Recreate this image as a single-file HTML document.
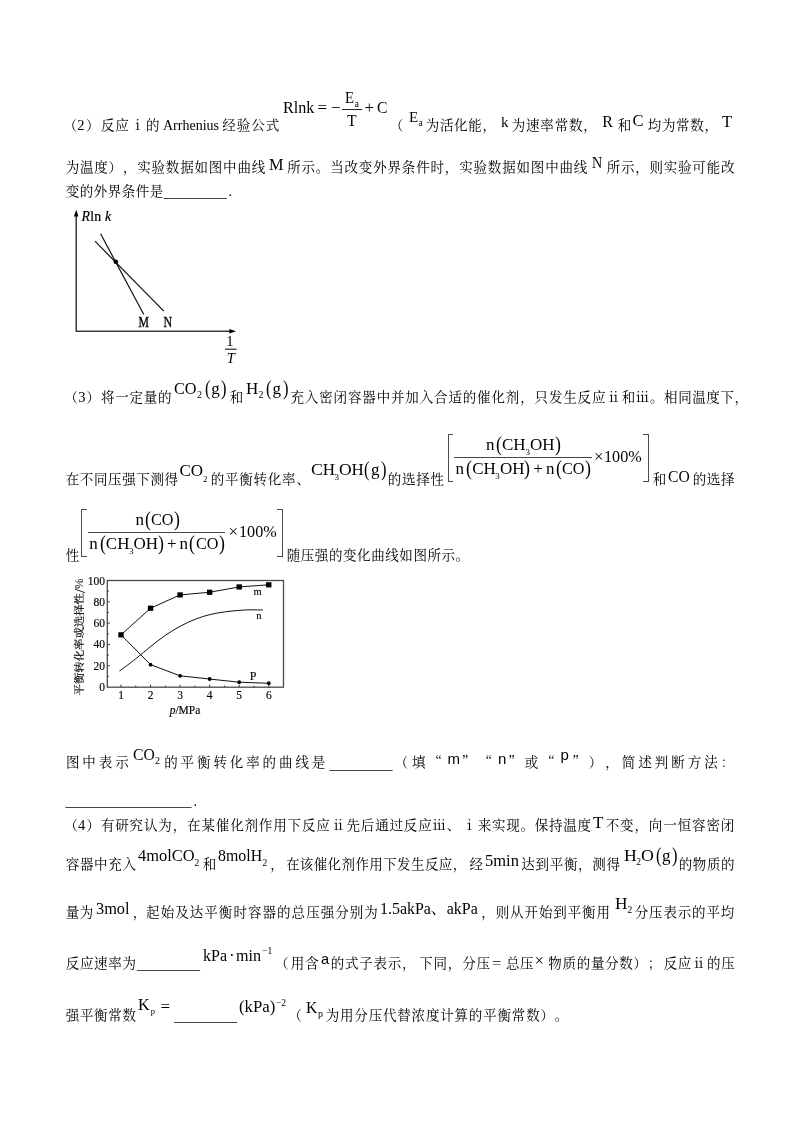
<!DOCTYPE html>
<html lang="zh-CN">
<head>
<meta charset="utf-8">
<title>化学试题</title>
<style>
html,body{margin:0;padding:0;background:#fff;}
body{width:800px;height:1132px;position:relative;overflow:hidden;color:#000;
 font-family:"Liberation Serif","Noto Serif CJK SC",serif;font-size:14px;}
.page{position:absolute;left:0;top:0;width:800px;height:1132px;}
.page span{position:absolute;white-space:nowrap;text-spacing-trim:space-all;font-kerning:none;font-variant-ligatures:none;font-size:13.5px;line-height:24px;transform-origin:0 50%;}
.page span span{position:static;font-size:inherit;line-height:inherit;}
.c{font-family:"Noto Serif CJK SC","Liberation Serif",serif;}
.s{font-family:"Liberation Serif","Noto Serif CJK SC",serif;}
.a{font-family:"Liberation Sans","Noto Sans CJK SC",sans-serif;}
section,p,figure{margin:0;padding:0;display:block;}
.hl{position:absolute;display:block;}
.it{font-style:italic;}
svg{position:absolute;left:0;top:0;overflow:visible;}
svg text{font-family:"Liberation Serif","Noto Serif CJK SC",serif;}
</style>
</head>
<body>
<div class="page">
<section class="q">
<p class="ln">
<span class="c" style="left:63.50px;top:112px;letter-spacing:0.500px;">（</span>
<span class="s" style="left:77.20px;top:115px;font-size:14.5px;line-height:20px;">2</span>
<span class="c" style="left:85.90px;top:112px;letter-spacing:0.500px;">）</span>
<span class="c" style="left:100.90px;top:112px;letter-spacing:0.800px;">反应</span>
<span class="c" style="left:130.90px;top:112px;letter-spacing:0.500px;">ⅰ</span>
<span class="c" style="left:145.90px;top:112px;letter-spacing:0.500px;">的</span>
<span class="s" style="left:163.00px;top:116px;font-size:14px;line-height:19px;">Arrhenius</span>
<span class="c" style="left:222.30px;top:112px;letter-spacing:1.000px;">经验公式</span>
<span class="s" style="left:282.70px;top:96px;font-size:17px;line-height:23px;transform:scaleX(0.95);">Rlnk</span>
<span class="s" style="left:317.50px;top:96px;font-size:17px;line-height:23px;">=</span>
<span class="s" style="left:331.00px;top:96px;font-size:17px;line-height:23px;">−</span>
<span class="s" style="left:345.20px;top:87px;font-size:16px;line-height:21px;transform:scaleX(0.92);">E</span>
<span class="s" style="left:354.40px;top:96px;font-size:10px;line-height:15px;">a</span>
<i class="hl" style="left:342.40px;top:109.00px;width:19.20px;height:1px;background:#222"></i>
<span class="s" style="left:346.80px;top:109px;font-size:17px;line-height:23px;transform:scaleX(0.92);">T</span>
<span class="s" style="left:364.50px;top:96px;font-size:17px;line-height:23px;">+</span>
<span class="s" style="left:377.00px;top:96px;font-size:17px;line-height:23px;transform:scaleX(0.92);">C</span>
<span class="c" style="left:389.70px;top:112px;letter-spacing:0.500px;">（</span>
<span class="s" style="left:409.00px;top:107px;font-size:15px;line-height:20px;">E</span>
<span class="s" style="left:418.60px;top:116px;font-size:9.5px;line-height:14px;">a</span>
<span class="c" style="left:425.70px;top:112px;letter-spacing:0.700px;">为活化能，</span>
<span class="s" style="left:501.00px;top:112px;font-size:15px;line-height:20px;">k</span>
<span class="c" style="left:511.70px;top:112px;letter-spacing:0.833px;">为速率常数，</span>
<span class="s" style="left:602.20px;top:111px;font-size:16px;line-height:21px;">R</span>
<span class="c" style="left:617.70px;top:112px;letter-spacing:0.500px;">和</span>
<span class="s" style="left:632.60px;top:109px;font-size:16.5px;line-height:23px;">C</span>
<span class="c" style="left:647.70px;top:112px;letter-spacing:0.700px;">均为常数，</span>
<span class="s" style="left:722.00px;top:110px;font-size:16.5px;line-height:23px;">T</span>
</p>
<p class="ln">
<span class="c" style="left:65.70px;top:154px;letter-spacing:0.807px;">为温度）</span>
<span class="c" style="left:122.93px;top:154px;letter-spacing:0.807px;">，实验数据如图中曲线</span>
<span class="s" style="left:269.00px;top:153px;font-size:17px;line-height:23px;transform:scaleX(0.96);">M</span>
<span class="c" style="left:287.20px;top:154px;letter-spacing:0.833px;">所示。当改变外界条件时，实验数据如图中曲线</span>
<span class="s" style="left:592.30px;top:151px;font-size:17px;line-height:23px;transform:scaleX(0.83);">N</span>
<span class="c" style="left:606.70px;top:154px;letter-spacing:0.778px;">所示，则实验可能改</span>
</p>
<p class="ln">
<span class="c" style="left:65.70px;top:178px;letter-spacing:0.500px;">变的外界条件是</span>
<span class="s" style="left:163.80px;top:183px;font-size:14px;line-height:19px;">_________</span>
<span class="s" style="left:228.50px;top:182px;font-size:14px;line-height:19px;">.</span>
</p>
<figure class="fig" aria-label="Rln k - 1/T">
<svg width="800" height="1132" viewBox="0 0 800 1132">
<g fill="none" stroke="#3a3a3a" stroke-width="1.5">
<path d="M76.2 215 V331.2 H231"/>
</g>
<path d="M76.2 209.8 L78.5 216.4 L73.9 216.4 Z" fill="#000"/>
<path d="M236 331.2 L229.4 333.5 L229.4 328.9 Z" fill="#000"/>
<g stroke="#111" stroke-width="1.2" fill="none">
<path d="M100.6 233.8 L143.8 314.5"/>
<path d="M95 241.2 L163.8 311.2"/>
</g>
<circle cx="115.8" cy="261.8" r="2.3" fill="#000"/>
<g font-size="13" fill="#000">
<text x="81.6" y="220.6" font-size="13.8" letter-spacing="0.2" stroke="#000" stroke-width="0.2"><tspan font-style="italic">R</tspan>ln <tspan font-style="italic">k</tspan></text>
<text transform="translate(138.4,327.4) scale(0.84,1)" font-size="14" stroke="#000" stroke-width="0.3">M</text>
<text transform="translate(163.5,327.4) scale(0.86,1)" font-size="14" stroke="#000" stroke-width="0.3">N</text>
<text x="229.9" y="346.3" text-anchor="middle" font-size="14.5">1</text>
<text x="230.7" y="362.6" text-anchor="middle" font-size="14.5" font-style="italic">T</text>
</g>
<path d="M225 349.2 H236.6" stroke="#000" stroke-width="1"/>
</svg>
</figure>
</section>
<section class="q">
<p class="ln">
<span class="c" style="left:64.20px;top:384px;letter-spacing:0.500px;">（</span>
<span class="s" style="left:78.30px;top:387px;font-size:14.5px;line-height:20px;">3</span>
<span class="c" style="left:86.50px;top:384px;letter-spacing:0.500px;">）</span>
<span class="c" style="left:100.90px;top:384px;letter-spacing:0.780px;">将一定量的</span>
<span class="s" style="left:174.00px;top:377px;font-size:17px;line-height:23px;transform:scaleX(0.957);">CO</span>
<span class="s" style="left:197.00px;top:387px;font-size:10px;line-height:15px;">2</span>
<span class="s" style="left:204.81px;top:373px;font-size:22px;line-height:29px;transform:scaleX(0.75);">(</span>
<span class="s" style="left:211.20px;top:377px;font-size:17px;line-height:23px;">g</span>
<span class="s" style="left:221.12px;top:373px;font-size:22px;line-height:29px;transform:scaleX(0.75);">)</span>
<span class="c" style="left:229.70px;top:384px;letter-spacing:0.500px;">和</span>
<span class="s" style="left:246.10px;top:377px;font-size:17px;line-height:23px;">H</span>
<span class="s" style="left:258.40px;top:387px;font-size:10px;line-height:15px;">2</span>
<span class="s" style="left:266.21px;top:373px;font-size:22px;line-height:29px;transform:scaleX(0.75);">(</span>
<span class="s" style="left:272.60px;top:377px;font-size:17px;line-height:23px;">g</span>
<span class="s" style="left:282.52px;top:373px;font-size:22px;line-height:29px;transform:scaleX(0.75);">)</span>
<span class="c" style="left:290.50px;top:384px;letter-spacing:0.855px;">充入密闭容器中并加入合适的催化剂，只发生反应</span>
<span class="c" style="left:606.70px;top:384px;letter-spacing:0.500px;">ⅱ</span>
<span class="c" style="left:621.70px;top:384px;letter-spacing:0.611px;">和ⅲ。相同温度下，</span>
</p>
<p class="ln">
<span class="c" style="left:65.70px;top:466px;letter-spacing:0.625px;">在不同压强下测得</span>
<span class="s" style="left:179.40px;top:459px;font-size:17px;line-height:23px;">CO</span>
<span class="s" style="left:203.00px;top:472px;font-size:9px;line-height:14px;">2</span>
<span class="c" style="left:210.70px;top:466px;letter-spacing:0.786px;">的平衡转化率、</span>
<span class="s" style="left:310.90px;top:458px;font-size:17px;line-height:23px;transform:scaleX(1.05);">C</span>
<span class="s" style="left:322.70px;top:458px;font-size:17px;line-height:23px;">H</span>
<span class="s" style="left:334.40px;top:470px;font-size:9px;line-height:14px;">3</span>
<span class="s" style="left:338.90px;top:458px;font-size:17px;line-height:23px;transform:scaleX(1.03);">O</span>
<span class="s" style="left:351.40px;top:458px;font-size:17px;line-height:23px;">H</span>
<span class="s" style="left:364.41px;top:454px;font-size:22px;line-height:29px;transform:scaleX(0.75);">(</span>
<span class="s" style="left:371.00px;top:458px;font-size:17px;line-height:23px;">g</span>
<span class="s" style="left:381.02px;top:454px;font-size:22px;line-height:29px;transform:scaleX(0.75);">)</span>
<span class="c" style="left:387.70px;top:466px;letter-spacing:0.750px;">的选择性</span>
<span class="c" style="left:652.70px;top:466px;letter-spacing:0.500px;">和</span>
<span class="s" style="left:668.00px;top:465px;font-size:17px;line-height:23px;transform:scaleX(0.92);">CO</span>
<span class="c" style="left:692.70px;top:466px;letter-spacing:0.667px;">的选择</span>
<i class="hl" style="left:447.50px;top:433.50px;width:1px;height:48.00px;background:#4a4a4a"></i>
<i class="hl" style="left:447.50px;top:433.50px;width:5.50px;height:1px;background:#4a4a4a"></i>
<i class="hl" style="left:447.50px;top:480.50px;width:5.50px;height:1px;background:#4a4a4a"></i>
<i class="hl" style="left:647.90px;top:433.50px;width:1px;height:48.00px;background:#4a4a4a"></i>
<i class="hl" style="left:643.40px;top:433.50px;width:5.50px;height:1px;background:#4a4a4a"></i>
<i class="hl" style="left:643.40px;top:480.50px;width:5.50px;height:1px;background:#4a4a4a"></i>
<i class="hl" style="left:454.00px;top:456.50px;width:137.50px;height:1px;background:#444"></i>
<span class="s" style="left:455.60px;top:457px;font-size:17px;line-height:23px;">n</span>
<span class="s" style="left:466.00px;top:454px;font-size:21px;line-height:28px;transform:scaleX(0.85);">(</span>
<span class="s" style="left:472.20px;top:457px;font-size:17px;line-height:23px;">CH</span>
<span class="s" style="left:495.30px;top:469px;font-size:9px;line-height:14px;">3</span>
<span class="s" style="left:500.00px;top:457px;font-size:17px;line-height:23px;">OH</span>
<span class="s" style="left:524.20px;top:454px;font-size:21px;line-height:28px;transform:scaleX(0.85);">)</span>
<span class="s" style="left:533.30px;top:457px;font-size:17px;line-height:23px;">+</span>
<span class="s" style="left:546.00px;top:457px;font-size:17px;line-height:23px;">n</span>
<span class="s" style="left:555.60px;top:454px;font-size:21px;line-height:28px;transform:scaleX(0.85);">(</span>
<span class="s" style="left:562.40px;top:457px;font-size:17px;line-height:23px;transform:scaleX(0.95);">CO</span>
<span class="s" style="left:585.20px;top:454px;font-size:21px;line-height:28px;transform:scaleX(0.85);">)</span>
<span class="s" style="left:486.00px;top:433px;font-size:17px;line-height:23px;">n</span>
<span class="s" style="left:495.50px;top:430px;font-size:21px;line-height:28px;transform:scaleX(0.85);">(</span>
<span class="s" style="left:502.00px;top:433px;font-size:17px;line-height:23px;">CH</span>
<span class="s" style="left:525.40px;top:445px;font-size:9px;line-height:14px;">3</span>
<span class="s" style="left:530.00px;top:433px;font-size:17px;line-height:23px;">OH</span>
<span class="s" style="left:555.20px;top:430px;font-size:21px;line-height:28px;transform:scaleX(0.85);">)</span>
<span class="s" style="left:594.00px;top:445px;font-size:17px;line-height:23px;">×</span>
<span class="s" style="left:604.40px;top:445px;font-size:17px;line-height:23px;transform:scaleX(0.95);">100%</span>
</p>
<p class="ln">
<span class="c" style="left:65.70px;top:542px;letter-spacing:0.500px;">性</span>
<span class="c" style="left:286.70px;top:542px;letter-spacing:0.577px;">随压强的变化曲线如图所示。</span>
<i class="hl" style="left:81.10px;top:508.50px;width:1px;height:48.00px;background:#4a4a4a"></i>
<i class="hl" style="left:81.10px;top:508.50px;width:5.50px;height:1px;background:#4a4a4a"></i>
<i class="hl" style="left:81.10px;top:555.50px;width:5.50px;height:1px;background:#4a4a4a"></i>
<i class="hl" style="left:281.50px;top:508.50px;width:1px;height:48.00px;background:#4a4a4a"></i>
<i class="hl" style="left:277.00px;top:508.50px;width:5.50px;height:1px;background:#4a4a4a"></i>
<i class="hl" style="left:277.00px;top:555.50px;width:5.50px;height:1px;background:#4a4a4a"></i>
<i class="hl" style="left:87.60px;top:531.50px;width:137.50px;height:1px;background:#444"></i>
<span class="s" style="left:89.20px;top:532px;font-size:17px;line-height:23px;">n</span>
<span class="s" style="left:99.60px;top:529px;font-size:21px;line-height:28px;transform:scaleX(0.85);">(</span>
<span class="s" style="left:105.80px;top:532px;font-size:17px;line-height:23px;">CH</span>
<span class="s" style="left:128.90px;top:544px;font-size:9px;line-height:14px;">3</span>
<span class="s" style="left:133.60px;top:532px;font-size:17px;line-height:23px;">OH</span>
<span class="s" style="left:157.80px;top:529px;font-size:21px;line-height:28px;transform:scaleX(0.85);">)</span>
<span class="s" style="left:166.90px;top:532px;font-size:17px;line-height:23px;">+</span>
<span class="s" style="left:179.60px;top:532px;font-size:17px;line-height:23px;">n</span>
<span class="s" style="left:189.20px;top:529px;font-size:21px;line-height:28px;transform:scaleX(0.85);">(</span>
<span class="s" style="left:196.00px;top:532px;font-size:17px;line-height:23px;transform:scaleX(0.95);">CO</span>
<span class="s" style="left:218.80px;top:529px;font-size:21px;line-height:28px;transform:scaleX(0.85);">)</span>
<span class="s" style="left:135.60px;top:508px;font-size:17px;line-height:23px;">n</span>
<span class="s" style="left:144.60px;top:505px;font-size:21px;line-height:28px;transform:scaleX(0.85);">(</span>
<span class="s" style="left:150.80px;top:508px;font-size:17px;line-height:23px;transform:scaleX(0.95);">CO</span>
<span class="s" style="left:173.60px;top:505px;font-size:21px;line-height:28px;transform:scaleX(0.85);">)</span>
<span class="s" style="left:228.60px;top:520px;font-size:17px;line-height:23px;">×</span>
<span class="s" style="left:239.00px;top:520px;font-size:17px;line-height:23px;transform:scaleX(0.95);">100%</span>
</p>
<figure class="fig" aria-label="p/MPa">
<svg width="800" height="1132" viewBox="0 0 800 1132"><rect x="107.3" y="580.5" width="176.20" height="106.70" fill="none" stroke="#4a4a4a" stroke-width="1.3"/>
<path d="M107.3 676.36 h1.6 M107.3 665.71 h2.6 M107.3 655.07 h1.6 M107.3 644.42 h2.6 M107.3 633.77 h1.6 M107.3 623.13 h2.6 M107.3 612.49 h1.6 M107.3 601.84 h2.6 M107.3 591.19 h1.6 M121.00 687.2 v-2.6 M135.78 687.2 v-1.6 M150.55 687.2 v-2.6 M165.32 687.2 v-1.6 M180.10 687.2 v-2.6 M194.88 687.2 v-1.6 M209.65 687.2 v-2.6 M224.43 687.2 v-1.6 M239.20 687.2 v-2.6 M253.97 687.2 v-1.6 M268.75 687.2 v-2.6" stroke="#2a2a2a" stroke-width="0.9" fill="none"/>
<path d="M121.00 634.84 L150.55 608.23 L180.10 594.92 L209.65 592.26 L239.20 586.94 L268.75 584.81" stroke="#111" stroke-width="1" fill="none"/>
<path d="M121.00 634.84 L150.55 664.65 L180.10 675.82 L209.65 679.02 L239.20 682.21 L268.75 683.27" stroke="#111" stroke-width="1" fill="none"/>
<rect x="118.30" y="632.24" width="5.4" height="5.2" fill="#000"/>
<rect x="147.85" y="605.63" width="5.4" height="5.2" fill="#000"/>
<rect x="177.40" y="592.32" width="5.4" height="5.2" fill="#000"/>
<rect x="206.95" y="589.66" width="5.4" height="5.2" fill="#000"/>
<rect x="236.50" y="584.34" width="5.4" height="5.2" fill="#000"/>
<rect x="266.05" y="582.21" width="5.4" height="5.2" fill="#000"/>
<circle cx="150.55" cy="664.65" r="1.9" fill="#000"/>
<circle cx="180.10" cy="675.82" r="1.9" fill="#000"/>
<circle cx="209.65" cy="679.02" r="1.9" fill="#000"/>
<circle cx="239.20" cy="682.21" r="1.9" fill="#000"/>
<circle cx="268.75" cy="683.27" r="1.9" fill="#000"/>
<path d="M119.52 671.03 C122.23 668.99 130.60 662.87 135.78 658.79 C140.95 654.71 145.62 650.45 150.55 646.55 C155.48 642.65 160.40 638.74 165.32 635.37 C170.25 632.00 175.17 628.98 180.10 626.32 C185.03 623.66 189.95 621.36 194.88 619.40 C199.80 617.45 204.72 615.86 209.65 614.61 C214.58 613.37 219.50 612.66 224.43 611.95 C229.35 611.24 234.77 610.71 239.20 610.36 C243.63 610.00 247.08 609.88 251.02 609.82 C254.96 609.77 260.87 610.00 262.84 610.04" stroke="#111" stroke-width="1" fill="none"/><g font-size="11.5" fill="#000" stroke="#000" stroke-width="0.15"><text x="105" y="691.0" text-anchor="end">0</text>
<text x="105" y="669.7" text-anchor="end">20</text>
<text x="105" y="648.4" text-anchor="end">40</text>
<text x="105" y="627.1" text-anchor="end">60</text>
<text x="105" y="605.8" text-anchor="end">80</text>
<text x="105" y="584.5" text-anchor="end">100</text>
<text x="121.0" y="698.6" text-anchor="middle">1</text>
<text x="150.6" y="698.6" text-anchor="middle">2</text>
<text x="180.1" y="698.6" text-anchor="middle">3</text>
<text x="209.7" y="698.6" text-anchor="middle">4</text>
<text x="239.2" y="698.6" text-anchor="middle">5</text>
<text x="268.8" y="698.6" text-anchor="middle">6</text>
<text x="253.5" y="594.5" font-size="10.5">m</text>
<text x="256.3" y="618.6" font-size="10.5">n</text>
<text x="249.8" y="680" font-size="12">P</text>
<text x="185" y="714.2" text-anchor="middle" font-size="11.5"><tspan font-style="italic">p</tspan>/MPa</text>
<text transform="translate(83.2,695.5) rotate(-90)" font-size="10.2" textLength="117" lengthAdjust="spacingAndGlyphs" style="font-family:'Noto Serif CJK SC','Liberation Serif',serif">平衡转化率或选择性/%</text></g></svg>
</figure>
<p class="ln">
<span class="c" style="left:65.90px;top:749px;letter-spacing:2.950px;">图中表示</span>
<span class="s" style="left:133.20px;top:743px;font-size:17px;line-height:23px;transform:scaleX(0.92);">CO</span>
<span class="s" style="left:155.00px;top:753px;font-size:10px;line-height:15px;">2</span>
<span class="c" style="left:164.20px;top:749px;letter-spacing:2.900px;">的平衡转化率的曲线是</span>
<span class="s" style="left:329.40px;top:755px;font-size:14px;line-height:19px;">_________</span>
<span class="c" style="left:394.50px;top:749px;letter-spacing:0.500px;">（</span>
<span class="c" style="left:412.00px;top:749px;letter-spacing:2.950px;">填“</span>
<span class="a" style="left:447.50px;top:748px;font-size:15px;line-height:21px;">m</span>
<span class="c" style="left:461.70px;top:749px;letter-spacing:0.500px;">”</span>
<span class="c" style="left:478.70px;top:749px;letter-spacing:0.500px;">“</span>
<span class="a" style="left:498.00px;top:748px;font-size:15px;line-height:21px;">n</span>
<span class="c" style="left:508.20px;top:749px;letter-spacing:3.000px;">”或“</span>
<span class="a" style="left:560.50px;top:744px;font-size:15px;line-height:21px;">p</span>
<span class="c" style="left:572.20px;top:749px;letter-spacing:0.500px;">”</span>
<span class="c" style="left:588.70px;top:749px;letter-spacing:0.500px;">）</span>
<span class="c" style="left:605.20px;top:749px;letter-spacing:3.000px;">，简述判断方法：</span>
</p>
<p class="ln">
<span class="s" style="left:65.50px;top:792px;font-size:14px;line-height:19px;">__________________</span>
<span class="s" style="left:193.50px;top:792px;font-size:14px;line-height:19px;">.</span>
</p>
</section>
<section class="q">
<p class="ln">
<span class="c" style="left:64.20px;top:812px;letter-spacing:0.500px;">（</span>
<span class="s" style="left:78.00px;top:815px;font-size:14.5px;line-height:20px;">4</span>
<span class="c" style="left:86.50px;top:812px;letter-spacing:0.500px;">）</span>
<span class="c" style="left:100.90px;top:812px;letter-spacing:0.862px;">有研究认为，在某催化剂作用下反应</span>
<span class="c" style="left:331.50px;top:812px;letter-spacing:0.500px;">ⅱ</span>
<span class="c" style="left:346.50px;top:812px;letter-spacing:0.837px;">先后通过反应ⅲ、</span>
<span class="c" style="left:462.70px;top:812px;letter-spacing:0.500px;">ⅰ</span>
<span class="c" style="left:477.70px;top:812px;letter-spacing:0.750px;">来实现。保持温度</span>
<span class="s" style="left:593.00px;top:811px;font-size:17px;line-height:23px;">T</span>
<span class="c" style="left:605.70px;top:812px;letter-spacing:0.889px;">不变，向一恒容密闭</span>
</p>
<p class="ln">
<span class="c" style="left:65.70px;top:851px;letter-spacing:0.700px;">容器中充入</span>
<span class="s" style="left:137.60px;top:844px;font-size:17px;line-height:23px;transform:scaleX(0.965);">4molCO</span>
<span class="s" style="left:194.40px;top:856px;font-size:9.5px;line-height:14px;">2</span>
<span class="c" style="left:202.70px;top:851px;letter-spacing:0.500px;">和</span>
<span class="s" style="left:218.00px;top:844px;font-size:17px;line-height:23px;transform:scaleX(0.935);">8molH</span>
<span class="s" style="left:262.60px;top:856px;font-size:9.5px;line-height:14px;">2</span>
<span class="c" style="left:270.20px;top:851px;letter-spacing:0.500px;">，</span>
<span class="c" style="left:285.90px;top:851px;letter-spacing:0.400px;">在该催化剂作用下发生反应，</span>
<span class="c" style="left:469.50px;top:851px;letter-spacing:0.500px;">经</span>
<span class="s" style="left:485.40px;top:849px;font-size:17px;line-height:23px;transform:scaleX(0.97);">5min</span>
<span class="c" style="left:521.30px;top:851px;letter-spacing:0.700px;">达到平衡，测得</span>
<span class="s" style="left:623.80px;top:844px;font-size:17px;line-height:23px;transform:scaleX(1.04);">H</span>
<span class="s" style="left:636.20px;top:855px;font-size:9.5px;line-height:14px;">2</span>
<span class="s" style="left:640.60px;top:844px;font-size:17px;line-height:23px;transform:scaleX(1.05);">O</span>
<span class="s" style="left:655.61px;top:840px;font-size:22px;line-height:29px;transform:scaleX(0.75);">(</span>
<span class="s" style="left:662.00px;top:844px;font-size:17px;line-height:23px;">g</span>
<span class="s" style="left:671.92px;top:840px;font-size:22px;line-height:29px;transform:scaleX(0.75);">)</span>
<span class="c" style="left:678.70px;top:851px;letter-spacing:0.625px;">的物质的</span>
</p>
<p class="ln">
<span class="c" style="left:65.70px;top:899px;letter-spacing:0.500px;">量为</span>
<span class="s" style="left:96.00px;top:897px;font-size:17px;line-height:23px;transform:scaleX(0.96);">3mol</span>
<span class="c" style="left:132.70px;top:899px;letter-spacing:0.500px;">，</span>
<span class="c" style="left:146.10px;top:899px;letter-spacing:1.050px;">起始及达平衡时容器的总压强分别为</span>
<span class="s" style="left:380.00px;top:897px;font-size:17px;line-height:23px;transform:scaleX(0.937);">1.5akPa、akPa</span>
<span class="c" style="left:481.30px;top:899px;letter-spacing:0.900px;">，则从开始到平衡用</span>
<span class="s" style="left:614.70px;top:892px;font-size:17px;line-height:23px;transform:scaleX(1.02);">H</span>
<span class="s" style="left:627.60px;top:903px;font-size:9.5px;line-height:14px;">2</span>
<span class="c" style="left:634.70px;top:899px;letter-spacing:0.857px;">分压表示的平均</span>
</p>
<p class="ln">
<span class="c" style="left:65.70px;top:950px;letter-spacing:0.700px;">反应速率为</span>
<span class="s" style="left:137.00px;top:955px;font-size:14px;line-height:19px;">_________</span>
<span class="s" style="left:203.00px;top:944px;font-size:17px;line-height:23px;transform:scaleX(0.94);">kPa</span>
<span class="s" style="left:229.00px;top:944px;font-size:17px;line-height:23px;">·</span>
<span class="s" style="left:236.00px;top:944px;font-size:17px;line-height:23px;transform:scaleX(0.945);">min</span>
<span class="s" style="left:262.20px;top:944px;font-size:9.5px;line-height:14px;">−1</span>
<span class="c" style="left:275.10px;top:950px;letter-spacing:0.500px;">（</span>
<span class="c" style="left:290.70px;top:950px;letter-spacing:1.000px;">用含</span>
<span class="a" style="left:321.00px;top:949px;font-size:14.5px;line-height:20px;">a</span>
<span class="c" style="left:330.70px;top:950px;letter-spacing:0.750px;">的式子表示，</span>
<span class="c" style="left:419.20px;top:950px;letter-spacing:0.750px;">下同，</span>
<span class="c" style="left:462.20px;top:950px;letter-spacing:0.700px;">分压</span>
<span class="s" style="left:492.00px;top:953px;font-size:15px;line-height:20px;transform:scaleX(1.1);">=</span>
<span class="c" style="left:505.90px;top:950px;letter-spacing:0.700px;">总压</span>
<span class="s" style="left:534.80px;top:950px;font-size:16px;line-height:21px;">×</span>
<span class="c" style="left:548.30px;top:950px;letter-spacing:0.700px;">物质的量分数）</span>
<span class="c" style="left:647.70px;top:950px;letter-spacing:0.500px;">；</span>
<span class="c" style="left:663.70px;top:950px;letter-spacing:0.600px;">反应</span>
<span class="c" style="left:692.10px;top:950px;letter-spacing:0.500px;">ⅱ</span>
<span class="c" style="left:707.10px;top:950px;letter-spacing:0.700px;">的压</span>
</p>
<p class="ln">
<span class="c" style="left:65.70px;top:1002px;letter-spacing:0.700px;">强平衡常数</span>
<span class="s" style="left:138.00px;top:993px;font-size:17px;line-height:23px;transform:scaleX(0.95);">K</span>
<span class="s" style="left:150.80px;top:1004px;font-size:8.5px;line-height:14px;">p</span>
<span class="s" style="left:160.50px;top:995px;font-size:17px;line-height:23px;">=</span>
<span class="s" style="left:174.00px;top:1007px;font-size:14px;line-height:19px;">_________</span>
<span class="s" style="left:239.00px;top:995px;font-size:17px;line-height:23px;transform:scaleX(0.985);">(kPa)</span>
<span class="s" style="left:276.00px;top:996px;font-size:9.5px;line-height:14px;">−2</span>
<span class="c" style="left:288.30px;top:1002px;letter-spacing:0.500px;">（</span>
<span class="s" style="left:306.00px;top:996px;font-size:17px;line-height:23px;transform:scaleX(0.92);">K</span>
<span class="s" style="left:318.00px;top:1006px;font-size:10px;line-height:15px;">p</span>
<span class="c" style="left:325.70px;top:1002px;letter-spacing:0.818px;">为用分压代替浓度计算的平衡常数）</span>
<span class="c" style="left:554.78px;top:1002px;letter-spacing:0.500px;">。</span>
</p>
</section>
</div>
</body>
</html>
